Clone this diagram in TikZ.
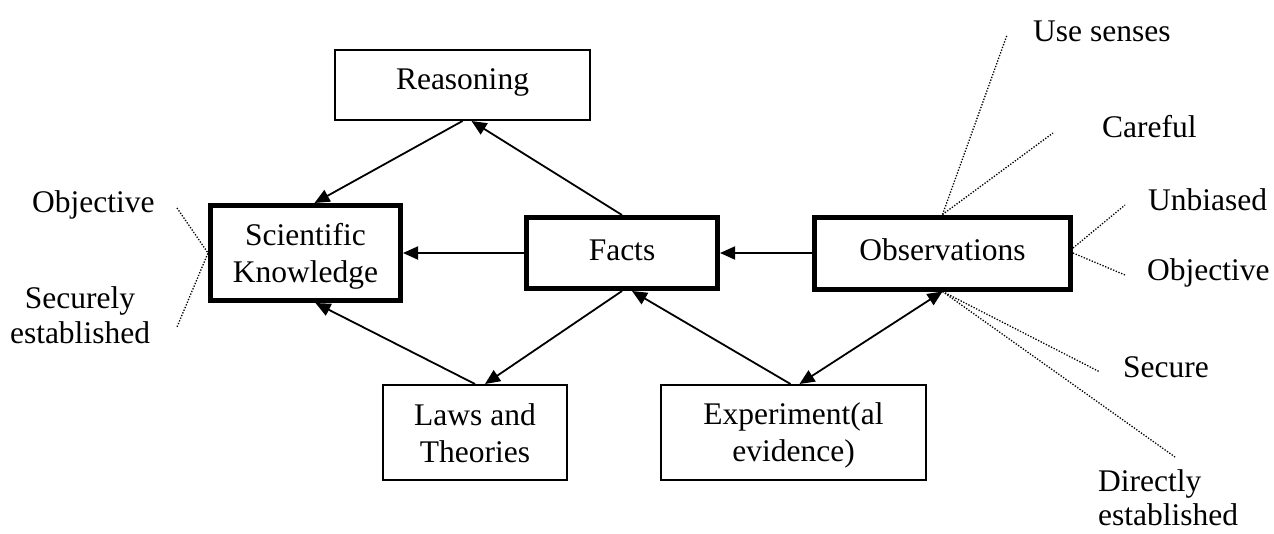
\documentclass[tikz,border=0pt]{standalone}
\usepackage{fontspec}
\setmainfont{Liberation Serif}
\usetikzlibrary{arrows.meta}
\newcommand\twostrut{\rule[-6pt]{0pt}{34pt}}
\newcommand\onestrut{\rule[-10pt]{0pt}{34pt}}
\newcommand\reastrut{\rule[-12pt]{0pt}{32pt}}
\begin{document}
\begin{tikzpicture}[x=1pt,y=-1pt,
  every node/.style={font=\fontsize{31.5}{35}\selectfont},
  thickbox/.style={draw, line width=5pt, align=center, inner sep=0pt},
  thinbox/.style={draw, line width=2pt, align=center, inner sep=0pt},
  twoline/.style={font=\fontsize{31.5}{37}\selectfont},
  link/.style={line width=1.8pt, -{Triangle[length=15pt,width=13pt]}},
  dlink/.style={line width=1.8pt, {Triangle[length=15pt,width=13pt]}-{Triangle[length=15pt,width=13pt]}},
  dots/.style={line width=1.3pt, dash pattern=on 1.3pt off 1.6pt},
  lbl/.style={inner sep=0pt, anchor=base west}]
\useasboundingbox (0,0) rectangle (1274,533);

% boxes
\node[thinbox, minimum width=255pt, minimum height=70pt] (rea) at (462.5,85) {\reastrut Reasoning};
\node[thickbox, twoline, minimum width=190pt, minimum height=95pt] (sk) at (305.5,253) {\twostrut Scientific\\\twostrut Knowledge};
\node[thickbox, minimum width=191pt, minimum height=71pt] (facts) at (622,253) {\onestrut Facts};
\node[thickbox, minimum width=256pt, minimum height=72pt] (obs) at (942.5,253) {\onestrut Observations};
\node[thinbox, twoline, minimum width=184pt, minimum height=95pt] (laws) at (475,432.5) {\twostrut Laws and\\\twostrut Theories};
\node[thinbox, twoline, minimum width=265pt, minimum height=95pt] (exp) at (793.5,432.5) {\twostrut Experiment(al\\\twostrut evidence)};

% connectors
\draw[link] (rea.south) -- ([xshift=9pt]sk.north);
\draw[link] (facts.north) -- ([xshift=9pt]rea.south);
\draw[link] (facts.west) -- (sk.east);
\draw[link] (obs.west) -- (facts.east);
\draw[link] (laws.north) -- ([xshift=10pt]sk.south);
\draw[link] (facts.south) -- ([xshift=10pt]laws.north);
\draw[link] ([xshift=-3pt]exp.north) -- ([xshift=10pt]facts.south);
\draw[dlink] ([xshift=6pt]exp.north) -- (obs.south);

% dotted leaders
\coordinate (c1) at (1007,35);
\coordinate (c2) at (1053,133);
\coordinate (c3) at (1125,205);
\coordinate (c4) at (1125,275);
\coordinate (c5) at (1100,372);
\coordinate (c6) at (1175,457);
\coordinate (c7) at (177,208);
\coordinate (c8) at (177,327);
\draw[dots] (obs.north) -- (c1);
\draw[dots] (obs.north) -- (c2);
\draw[dots] ([yshift=5pt]obs.east) -- (c3);
\draw[dots] (obs.east) -- (c4);
\draw[dots] (obs.south) -- (c5);
\draw[dots] (obs.south) -- (c6);
\draw[dots] (c7) -- (sk.west) -- (c8);

% labels
\node[lbl] (t1) at (1033,41) {Use senses};
\node[lbl] (t2) at (1102,137) {Careful};
\node[lbl] (t3) at (1148,210) {Unbiased};
\node[lbl] (t4) at (1147,280) {Objective};
\node[lbl] (t5) at (1123,377) {Secure};
\node[lbl, align=left, font=\fontsize{31.5}{34}\selectfont] (t6) at (1098,525) {Directly\\established};
\node[lbl] (t7) at (32,212) {Objective};
\node[inner sep=0pt, anchor=base, align=center] (t8) at (80,343) {Securely\\established};
\end{tikzpicture}
\end{document}
